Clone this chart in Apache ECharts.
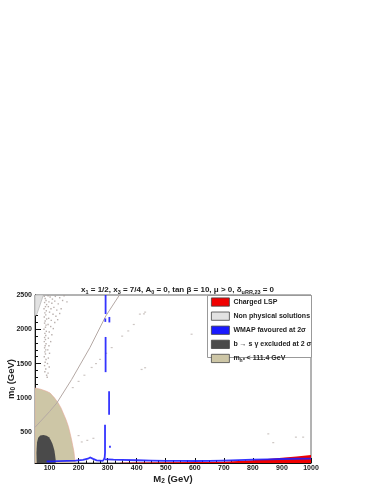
<!DOCTYPE html>
<html><head><meta charset="utf-8">
<script src="https://cdn.jsdelivr.net/npm/echarts@6/dist/echarts.min.js"></script>
<style>html,body{margin:0;padding:0;background:#fff}#c{width:374px;height:484px}</style>
</head><body><div id="c"></div>
<script>
// ---- data (M2 GeV, m0 GeV) ----
const xTicks = [100,200,300,400,500,600,700,800,900,1000];
const yTicks = [500,1000,1500,2000,2500];
const tanRegion = [[50,50],[50,1144],[70,1125],[90,1095],[102,1071],[117,1000],[130,924],[140,850],[147,779],[157,680],[165,582],[171,480],[176,387],[180,300],[184,215],[186,140],[188,69],[188,50]];
const bsgRegion = [[56,50],[55,200],[57,350],[61,420],[68,450],[79,460],[90,448],[98,425],[104,385],[110,330],[113,289],[117,230],[119,167],[121,100],[121,50]];
const nonPhysRegion = [[50,2500],[79,2500],[56,2215],[50,2200]];
const chargedRegion = [[343,50],[343,52],[400,56],[500,60],[600,64],[700,70],[750,80],[800,91],[850,108],[900,125],[950,145],[1000,167],[1000,50]];
const wmapSegments = [
  [[293,2520],[293,2222]],
  [[292,2158],[292,2108]],
  [[306,2180],[306,2100]],
  [[293,1888],[293,1375]],
  [[305,1096],[305,754]],
  [[291,607],[291,200],[290,134],[287,100],[283,82],[262,88],[250,110],[240,130],[232,112],[215,95],[190,86],[160,80],[130,76],[110,74],[90,72]],
  [[291,104],[300,102],[320,98],[350,95],[400,90],[450,86],[500,82],[550,80],[600,79],[650,82],[700,86],[750,92],[800,98],[850,104],[900,108],[950,112],[1000,115]],
  [[308,300],[308,272]]
];
const grayLine = [[50,570],[100,800],[125,925],[176,1267],[239,1733],[294,2196],[343,2515]];
const grayDots = [
 [82,2480],[85,2450],[88,2420],[83,2390],[90,2360],[86,2330],[81,2300],[89,2270],[84,2240],[87,2210],[82,2180],[90,2150],[85,2120],[83,2090],[88,2060],[86,2030],[81,2000],[89,1970],[84,1940],[87,1910],[83,1880],[86,1850],[82,1820],[88,1790],[85,1760],[83,1730],[87,1700],[84,1670],[86,1640],[82,1600],[88,1560],[85,1520],[83,1470],[87,1420],[84,1380],[90,1330],
 [95,2490],[102,2470],[110,2440],[120,2480],[135,2460],[150,2490],[98,2400],[108,2380],[118,2410],[130,2370],[145,2420],[160,2400],[96,2330],[105,2300],[115,2320],[125,2280],[140,2300],[100,2250],[112,2220],[122,2190],[135,2230],[97,2160],[106,2130],[118,2100],[128,2140],[95,2070],[104,2040],[113,2010],[99,1960],[108,1920],[96,1870],[104,1820],[98,1760],[94,1700],[100,1650],[96,1580],[93,1500],[99,1450],[95,1360],[92,1300]
];
const faintDots = [[180,1150],[200,1240],[220,1330],[245,1443],[260,1500],[274,1561],[295,1650],[314,1733],[350,1900],[390,2070],[411,2221],[425,2225],[429,2250],[371,1976],[589,1928],[429,1439],[417,1414],[211,357],[251,410],[200,450],[230,380],[853,475],[870,347],[948,427],[973,427]];

const FONT = '"Liberation Sans", Arial, Helvetica, sans-serif';
const xMinor = []; for (let v = 75; v <= 1000; v += 25) xMinor.push(v);
const yMinor = []; for (let v = 100; v <= 2500; v += 100) yMinor.push(v);
const plain = v => String(v);

function polySeries(name, pts, fill, stroke, z) {
  return {
    type: 'custom', name: name, z: z, clip: true,
    itemStyle: { color: fill },
    data: [[0]],
    renderItem: function (params, api) {
      return { type: 'polygon', shape: { points: pts.map(p => api.coord(p)) },
        style: { fill: fill, stroke: stroke || null, lineWidth: stroke ? 0.6 : 0 } };
    }
  };
}

const chart = echarts.init(document.getElementById('c'), null, { renderer: 'canvas' });
chart.setOption({
  animation: false,
  backgroundColor: '#fff',
  title: {
    text: 'x{s|1} = 1/2, x{s|3} = 7/4, A{s|0} = 0, tan β = 10, μ > 0, δ{s|uRR,23} = 0',
    left: 76, top: 280,
    textStyle: { fontFamily: FONT, fontSize: 8, fontWeight: 'bold', color: '#222',
      rich: { s: { fontFamily: FONT, fontSize: 5.5, fontWeight: 'bold', color: '#222', verticalAlign: 'bottom', padding: [4,0,0,0] } } }
  },
  grid: { left: 35, right: 63, top: 295, bottom: 21, containLabel: false, outerBoundsMode: 'none',
    show: true, borderColor: '#666', borderWidth: 1, backgroundColor: 'transparent' },
  legend: {
    orient: 'vertical', left: 208, top: 296, z: 100,
    padding: [1.5, 0, 0, 3],
    itemWidth: 18, itemHeight: 8.3, itemGap: 5,
    icon: 'rect',
    itemStyle: { borderColor: '#444', borderWidth: 0.8 },
    data: ['Charged LSP', 'Non physical solutions', 'WMAP favoured at 2σ', 'b → s γ excluded at 2 σ', 'mh < 111.4 GeV'],
    selectedMode: false,
    formatter: function (n) { return n === 'mh < 111.4 GeV' ? 'm{s|h⁰} < 111.4 GeV' : n; },
    textStyle: { fontFamily: FONT, fontSize: 7, fontWeight: 'bold', color: '#222', padding: [0,0,0,-1],
      rich: { s: { fontFamily: FONT, fontSize: 5, fontWeight: 'bold', color: '#222', padding: [4,0,0,0] } } }
  },
  graphic: [{ type: 'rect', z: 50, shape: { x: 207.5, y: 295.5, width: 104, height: 62 }, style: { fill: '#fff', stroke: '#999', lineWidth: 1 } }],
  xAxis: [{
    type: 'value', min: 50, max: 1000,
    name: 'M{s|2} (GeV)', nameLocation: 'middle', nameGap: 10, nameMoveOverlap: false,
    nameTextStyle: { fontFamily: FONT, fontSize: 9.5, fontWeight: 'bold', color: '#222',
      rich: { s: { fontFamily: FONT, fontSize: 6.5, fontWeight: 'bold', color: '#222', padding: [5,0,0,0] } } },
    axisLine: { show: true, lineStyle: { color: '#111', width: 1 } },
    axisTick: { show: true, inside: true, length: 5, customValues: xTicks, lineStyle: { color: '#111' } },
    axisLabel: { customValues: xTicks, formatter: plain, margin: 2, fontFamily: FONT, fontSize: 7, fontWeight: 'bold', color: '#222' },
    splitLine: { show: false }
  }, {
    type: 'value', min: 50, max: 1000, position: 'bottom',
    axisLine: { show: false },
    axisTick: { show: true, inside: true, length: 2.5, customValues: xMinor, lineStyle: { color: '#111' } },
    axisLabel: { show: false }, splitLine: { show: false }
  }],
  yAxis: [{
    type: 'value', min: 50, max: 2500,
    name: 'm{s|0} (GeV)', nameLocation: 'middle', nameGap: 18, nameRotate: 90, nameMoveOverlap: false,
    nameTextStyle: { fontFamily: FONT, fontSize: 9.5, fontWeight: 'bold', color: '#222',
      rich: { s: { fontFamily: FONT, fontSize: 6.5, fontWeight: 'bold', color: '#222', padding: [5,0,0,0] } } },
    axisLine: { show: true, lineStyle: { color: '#111', width: 1 } },
    axisTick: { show: true, inside: true, length: 6, customValues: yTicks, lineStyle: { color: '#111' } },
    axisLabel: { customValues: yTicks, formatter: plain, margin: 3, fontFamily: FONT, fontSize: 7, fontWeight: 'bold', color: '#222' },
    splitLine: { show: false }
  }, {
    type: 'value', min: 50, max: 2500, position: 'left',
    axisLine: { show: false },
    axisTick: { show: true, inside: true, length: 3, customValues: yMinor, lineStyle: { color: '#111' } },
    axisLabel: { show: false }, splitLine: { show: false }
  }],
  series: [
    polySeries('mh < 111.4 GeV', tanRegion, '#cdc6a6', '#e8a898', 2),
    polySeries('b → s γ excluded at 2 σ', bsgRegion, '#4a4a4a', null, 3),
    polySeries('Non physical solutions', nonPhysRegion, '#e2e2e2', '#aaa', 3),
    { type: 'line', name: 'grayline', data: grayLine, showSymbol: false, silent: true, z: 4,
      lineStyle: { color: '#b4a8a4', width: 1 }, clip: true },
    { type: 'scatter', name: 'dots', data: grayDots, symbol: 'rect', symbolSize: [1.4, 1.4], z: 4,
      itemStyle: { color: '#a89c98' }, silent: true },
    { type: 'scatter', name: 'faint', data: faintDots, symbol: 'rect', symbolSize: [2, 1.2], z: 4,
      itemStyle: { color: '#c0b8b4' }, silent: true },
    polySeries('Charged LSP', chargedRegion, '#f00000', null, 5),
    { type: 'custom', name: 'WMAP favoured at 2σ', z: 6, clip: true,
      itemStyle: { color: '#1a1aff' },
      data: wmapSegments.map((s, i) => [i]),
      renderItem: function (params, api) {
        const seg = wmapSegments[params.dataIndex];
        return { type: 'polyline', shape: { points: seg.map(p => api.coord(p)) },
          style: { stroke: '#1e1eff', lineWidth: 1.8, fill: null, opacity: 0.9 } };
      } }
  ]
});
</script></body></html>
